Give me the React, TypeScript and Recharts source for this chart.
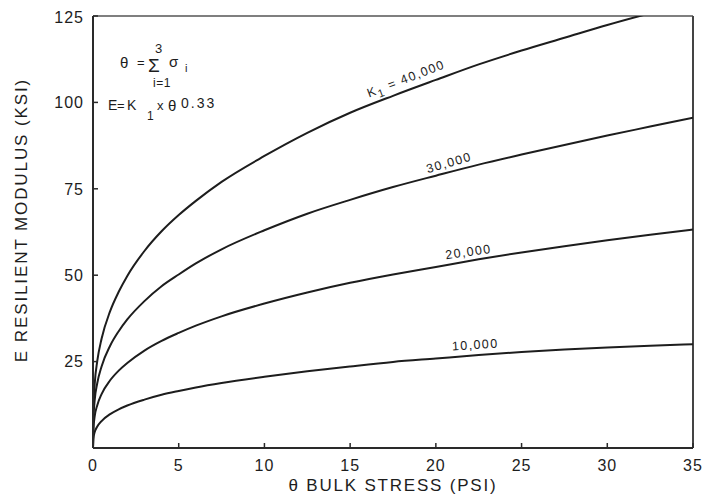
import React from "react";
import { LineChart, Line, XAxis, YAxis, ReferenceLine, ReferenceDot } from "recharts";

// Bulk stress θ (psi) sampling points
const theta = [0, 0.02, 0.1, 0.25, 0.5, 1, 1.5, 2, 3, 4, 5, 6, 7.5, 10, 12.5, 15, 17.5, 20, 22.5, 25, 27.5, 30, 32.5, 35];

// Resilient modulus E (ksi) for each K1
const k10000 = [0, 2.7, 4.6, 6.2, 7.8, 9.8, 11.2, 12.3, 14.0, 15.4, 16.5, 17.5, 18.8, 20.6, 22.2, 23.6, 24.9, 25.9, 26.9, 27.8, 28.5, 29.1, 29.6, 30.0];
const k20000 = [0, 5.4, 9.2, 12.4, 15.6, 19.6, 22.4, 24.6, 28.2, 31.0, 33.3, 35.4, 38.1, 41.8, 45.0, 47.8, 50.2, 52.4, 54.6, 56.6, 58.4, 60.1, 61.7, 63.2];
const k30000 = [0, 8.1, 13.9, 18.8, 23.6, 29.6, 33.8, 37.2, 42.5, 46.8, 50.2, 53.4, 57.5, 63.0, 67.8, 71.8, 75.5, 78.8, 82.0, 84.9, 87.7, 90.4, 93.0, 95.6];
const k40000 = [0, 10.8, 18.6, 25.2, 31.6, 39.6, 45.2, 49.8, 57.0, 62.7, 67.4, 71.5, 77.0, 84.5, 91.2, 97.0, 101.9, 106.5, 111.0, 115.0, 118.7, 122.4, 125.8, 129.0];

const xTicks = [0, 5, 10, 15, 20, 25, 30, 35];
const yTicks = [25, 50, 75, 100, 125];

// Curve labels: text, anchor (θ, E), rotation in degrees
const curveLabels = [
  { key: "40", theta: 18.26, e: 106.8, angle: -21, main: "K", sub: "1", rest: " = 40,000" },
  { key: "30", theta: 20.77, e: 82.5, angle: -16, main: "30,000", sub: "", rest: "" },
  { key: "20", theta: 21.9, e: 56.7, angle: -8, main: "20,000", sub: "", rest: "" },
  { key: "10", theta: 22.3, e: 29.8, angle: -3.5, main: "10,000", sub: "", rest: "" },
];

const toSeries = (xs: number[], ys: number[]) => xs.map((t, i) => ({ theta: t, e: ys[i] }));

const series = [
  { name: "K1 = 10,000", data: toSeries(theta, k10000) },
  { name: "K1 = 20,000", data: toSeries(theta, k20000) },
  { name: "K1 = 30,000", data: toSeries(theta, k30000) },
  { name: "K1 = 40,000", data: toSeries(theta, k40000) },
];

const FONT = "'Liberation Sans', Arial, Helvetica, sans-serif";
const INK = "#1d1d1d";

const CurveLabel = (lbl: (typeof curveLabels)[number]) => (props: any) => {
  const { cx, cy } = props;
  return (
    <text
      x={cx}
      y={cy}
      textAnchor="middle"
      dominantBaseline="central"
      transform={`rotate(${lbl.angle}, ${cx}, ${cy})`}
      fontFamily={FONT}
      fontSize={12.5}
      fill={INK}
      style={{ letterSpacing: "1.4px" }}
    >
      {lbl.main}
      {lbl.sub ? (
        <tspan fontSize={11} dy={4}>
          {lbl.sub}
        </tspan>
      ) : null}
      {lbl.rest ? <tspan dy={lbl.sub ? -4 : 0}>{lbl.rest}</tspan> : null}
    </text>
  );
};

const Formula = (props: any) => {
  const { cx, cy } = props;
  const t = (dx: number, dy: number, s: string, size: number, spacing = 0) => (
    <text
      x={cx + dx}
      y={cy + dy}
      fontFamily={FONT}
      fontSize={size}
      fill={INK}
      style={{ letterSpacing: `${spacing}px` }}
    >
      {s}
    </text>
  );
  return (
    <g>
      {t(0, 0, "θ", 15)}
      {t(17, -1, "=", 13)}
      {t(28, 4, "Σ", 19)}
      {t(35, -15, "3", 13)}
      {t(49, -1, "σ", 15)}
      {t(65, 4, "i", 11)}
      {t(33, 19, "i=1", 12, 0.5)}
      {t(-12, 42, "E", 14)}
      {t(-3, 42, "=", 13)}
      {t(7, 42, "K", 14)}
      {t(27, 52, "1", 12)}
      {t(37, 42, "x", 13)}
      {t(48, 43, "θ", 15)}
      {t(61, 40, "0.33", 14, 2)}
    </g>
  );
};

const XTitle = (props: any) => {
  const vb = props.viewBox || {};
  return (
    <text
      x={vb.x + vb.width / 2}
      y={477}
      textAnchor="middle"
      dominantBaseline="central"
      fontFamily={FONT}
      fontSize={17}
      fill={INK}
      style={{ letterSpacing: "1.8px" }}
    >
      θ BULK STRESS (PSI)
    </text>
  );
};

const YTitle = (props: any) => {
  const vb = props.viewBox || {};
  const cy = vb.y + vb.height / 2 - 12;
  return (
    <text
      x={13}
      y={cy}
      textAnchor="middle"
      dominantBaseline="central"
      transform={`rotate(-90, 13, ${cy})`}
      fontFamily={FONT}
      fontSize={17}
      fill={INK}
      style={{ letterSpacing: "1.9px" }}
    >
      E RESILIENT MODULUS (KSI)
    </text>
  );
};

const XTick = (props: any) => {
  const { x, y, payload } = props;
  return (
    <text
      x={x}
      y={y}
      dy="0.72em"
      textAnchor="middle"
      fontFamily={FONT}
      fontSize={16}
      fill={INK}
      style={{ letterSpacing: "1px" }}
    >
      {payload.value}
    </text>
  );
};

const YTick = (props: any) => {
  const { x, y, payload } = props;
  return (
    <text
      x={x}
      y={y}
      dy="0.36em"
      textAnchor="end"
      fontFamily={FONT}
      fontSize={16}
      fill={INK}
      style={{ letterSpacing: "1px" }}
    >
      {payload.value}
    </text>
  );
};

export default function App() {
  return (
    <div
      style={{
        width: 702,
        height: 498,
        boxSizing: "border-box",
        padding: "8px 0 0 8px",
        background: "#fff",
        overflow: "visible",
      }}
    >
      <style>{`html, body { margin: 0; padding: 0; } #root, .recharts-surface, .recharts-wrapper { overflow: visible !important; }`}</style>
      <LineChart width={694} height={490} margin={{ top: 8, right: 9, bottom: 0, left: 0 }}>
        <XAxis
          type="number"
          dataKey="theta"
          domain={[0, 35]}
          ticks={xTicks}
          height={50}
          axisLine={{ stroke: "#2a2a2a", strokeWidth: 2 }}
          tickLine={{ stroke: "#2a2a2a", strokeWidth: 1.5 }}
          tickSize={-5}
          tickMargin={16}
          tick={<XTick />}
          allowDataOverflow
          label={<XTitle />}
        />
        <YAxis
          type="number"
          domain={[0, 125]}
          ticks={yTicks}
          width={85}
          axisLine={{ stroke: "#2a2a2a", strokeWidth: 2 }}
          tickLine={{ stroke: "#2a2a2a", strokeWidth: 1.5 }}
          tickSize={-5}
          tickMargin={14}
          tick={<YTick />}
          allowDataOverflow
          label={<YTitle />}
        />
        <ReferenceLine y={125} stroke="#555" strokeWidth={1.5} />
        <ReferenceLine x={35} stroke="#444" strokeWidth={2} />
        {series.map((s) => (
          <Line
            key={s.name}
            name={s.name}
            data={s.data}
            dataKey="e"
            type="monotone"
            stroke={INK}
            strokeWidth={2}
            dot={false}
            isAnimationActive={false}
          />
        ))}
        {curveLabels.map((l) => (
          <ReferenceDot key={l.key} x={l.theta} y={l.e} r={0} shape={CurveLabel(l)} />
        ))}
        <ReferenceDot x={1.575} y={109.95} r={0} shape={Formula} />
      </LineChart>
    </div>
  );
}
